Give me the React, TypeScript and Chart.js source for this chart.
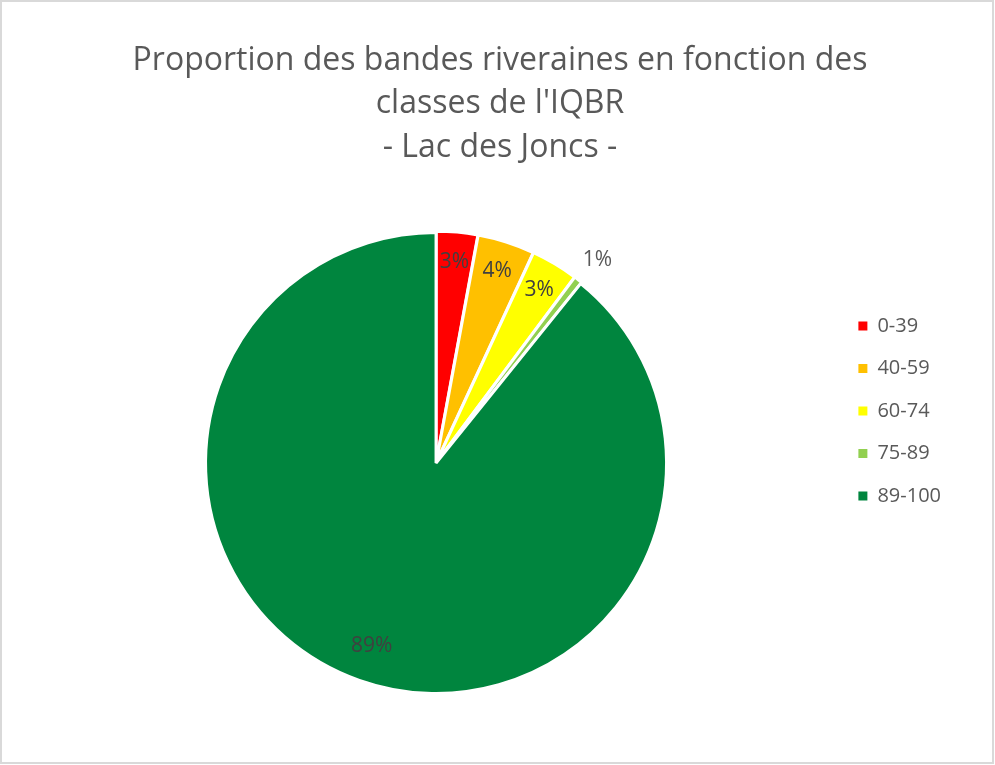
import React, { useEffect, useRef } from 'react';
import { Chart, registerables, layouts, DoughnutController } from 'chart.js';

Chart.register(...registerables);

// ---- data ----
const categories = ['0-39', '40-59', '60-74', '75-89', '89-100'];
const shares = [2.9, 4.0, 3.3, 0.6, 89.2];
const sliceColors = ['#FF0000', '#FFC000', '#FFFF00', '#92D050', '#00853E'];
const explode = [3, 3, 3, 3, 0];
const titleLines = ['Proportion des bandes riveraines en fonction des', "classes de l'IQBR"];
const subtitleText = '- Lac des Joncs -';

const FONT = "'Open Sans', sans-serif";
const SPACER_W = 12.8;

const spacerPlugin: any = {
  id: 'rightSpacer',
  beforeInit(chart: any) {
    const box: any = {
      position: 'right',
      weight: 2000,
      fullSize: false,
      options: {},
      left: 0, top: 0, right: 0, bottom: 0, width: 0, height: 0,
      isHorizontal() { return false; },
      update(_maxWidth: number, maxHeight: number) {
        this.width = SPACER_W;
        this.height = maxHeight;
      },
      draw() {},
    };
    layouts.addBox(chart, box);
  },
};

const labelPlugin: any = {
  id: 'sliceLabels',
  afterDatasetsDraw(chart: any) {
    const ctx = chart.ctx;
    const meta = chart.getDatasetMeta(0);
    const data = chart.data.datasets[0].data as number[];
    const total = data.reduce((a, b) => a + b, 0);
    ctx.save();
    ctx.font = `21px ${FONT}`;
    ctx.textAlign = 'center';
    ctx.textBaseline = 'middle';
    meta.data.forEach((arc: any, i: number) => {
      const { x, y, startAngle, endAngle, outerRadius } = arc.getProps(
        ['x', 'y', 'startAngle', 'endAngle', 'outerRadius'],
        true
      );
      const pct = (data[i] / total) * 100;
      const mid = (startAngle + endAngle) / 2;
      const text = Math.round(pct) + '%';
      let px: number;
      let py: number;
      let color = '#404040';
      if (pct < 2) {
        const w = ctx.measureText(text).width;
        px = x + Math.cos(mid) * (outerRadius + 18 + w / 2);
        py = y + Math.sin(mid) * (outerRadius + 18 + 8);
        color = '#595959';
      } else {
        const d = pct > 50 ? outerRadius * 0.84 : outerRadius * 0.875;
        px = x + Math.cos(mid) * d;
        py = y + Math.sin(mid) * d;
      }
      ctx.fillStyle = color;
      ctx.fillText(text, px, py);
    });
    ctx.restore();
  },
};

export default function App() {
  const canvasRef = useRef<HTMLCanvasElement | null>(null);

  useEffect(() => {
    const prevMargin = document.body.style.margin;
    document.body.style.margin = '0';
    const canvas = canvasRef.current;
    if (!canvas) return;
    const baseGen = (DoughnutController as any).overrides.plugins.legend.labels.generateLabels;
    const chart = new Chart(canvas, {
      type: 'pie',
      data: {
        labels: categories,
        datasets: [
          {
            data: shares,
            backgroundColor: sliceColors,
            borderColor: '#ffffff',
            borderWidth: 3,
            hoverBorderWidth: 3,
            offset: explode,
            hoverOffset: 0,
          } as any,
        ],
      },
      options: {
        responsive: false,
        animation: false,
        events: [],
        layout: { padding: { left: 36.2, right: 31.2, top: 0, bottom: 68.5 } },
        plugins: {
          title: {
            display: true,
            text: titleLines,
            color: '#595959',
            font: { family: FONT, size: 32, weight: 'normal', lineHeight: 1.344 },
            padding: { top: 39, bottom: 0 },
          },
          subtitle: {
            display: true,
            text: subtitleText,
            color: '#595959',
            font: { family: FONT, size: 32, weight: 'normal', lineHeight: 1.344 },
            padding: { top: 1, bottom: 60.5 },
          },
          legend: {
            display: true,
            position: 'right',
            align: 'start',
            fullSize: false,
            title: {
              display: true,
              text: '',
              padding: { top: 49.6, bottom: 0 },
              font: { size: 12, lineHeight: 1.2 },
            },
            labels: {
              boxWidth: 9,
              boxHeight: 9,
              padding: 22.5,
              color: '#595959',
              font: { family: FONT, size: 20 },
              generateLabels: (c: any) =>
                baseGen(c).map((it: any) => ({ ...it, lineWidth: 0, strokeStyle: 'rgba(0,0,0,0)' })),
            },
          },
          tooltip: { enabled: false },
        },
      } as any,
      plugins: [spacerPlugin, labelPlugin],
    });
    return () => {
      chart.destroy();
      document.body.style.margin = prevMargin;
    };
  }, []);

  return (
    <div style={{ position: 'relative', width: 995, height: 765, background: '#ffffff' }}>
      <canvas
        ref={canvasRef}
        width={995}
        height={765}
        style={{ position: 'absolute', left: 0, top: 0, display: 'block' }}
      />
      <div
        style={{
          position: 'absolute',
          left: 0,
          top: 0,
          width: 994,
          height: 764,
          boxSizing: 'border-box',
          border: '2px solid #d9d9d9',
          pointerEvents: 'none',
        }}
      />
    </div>
  );
}
